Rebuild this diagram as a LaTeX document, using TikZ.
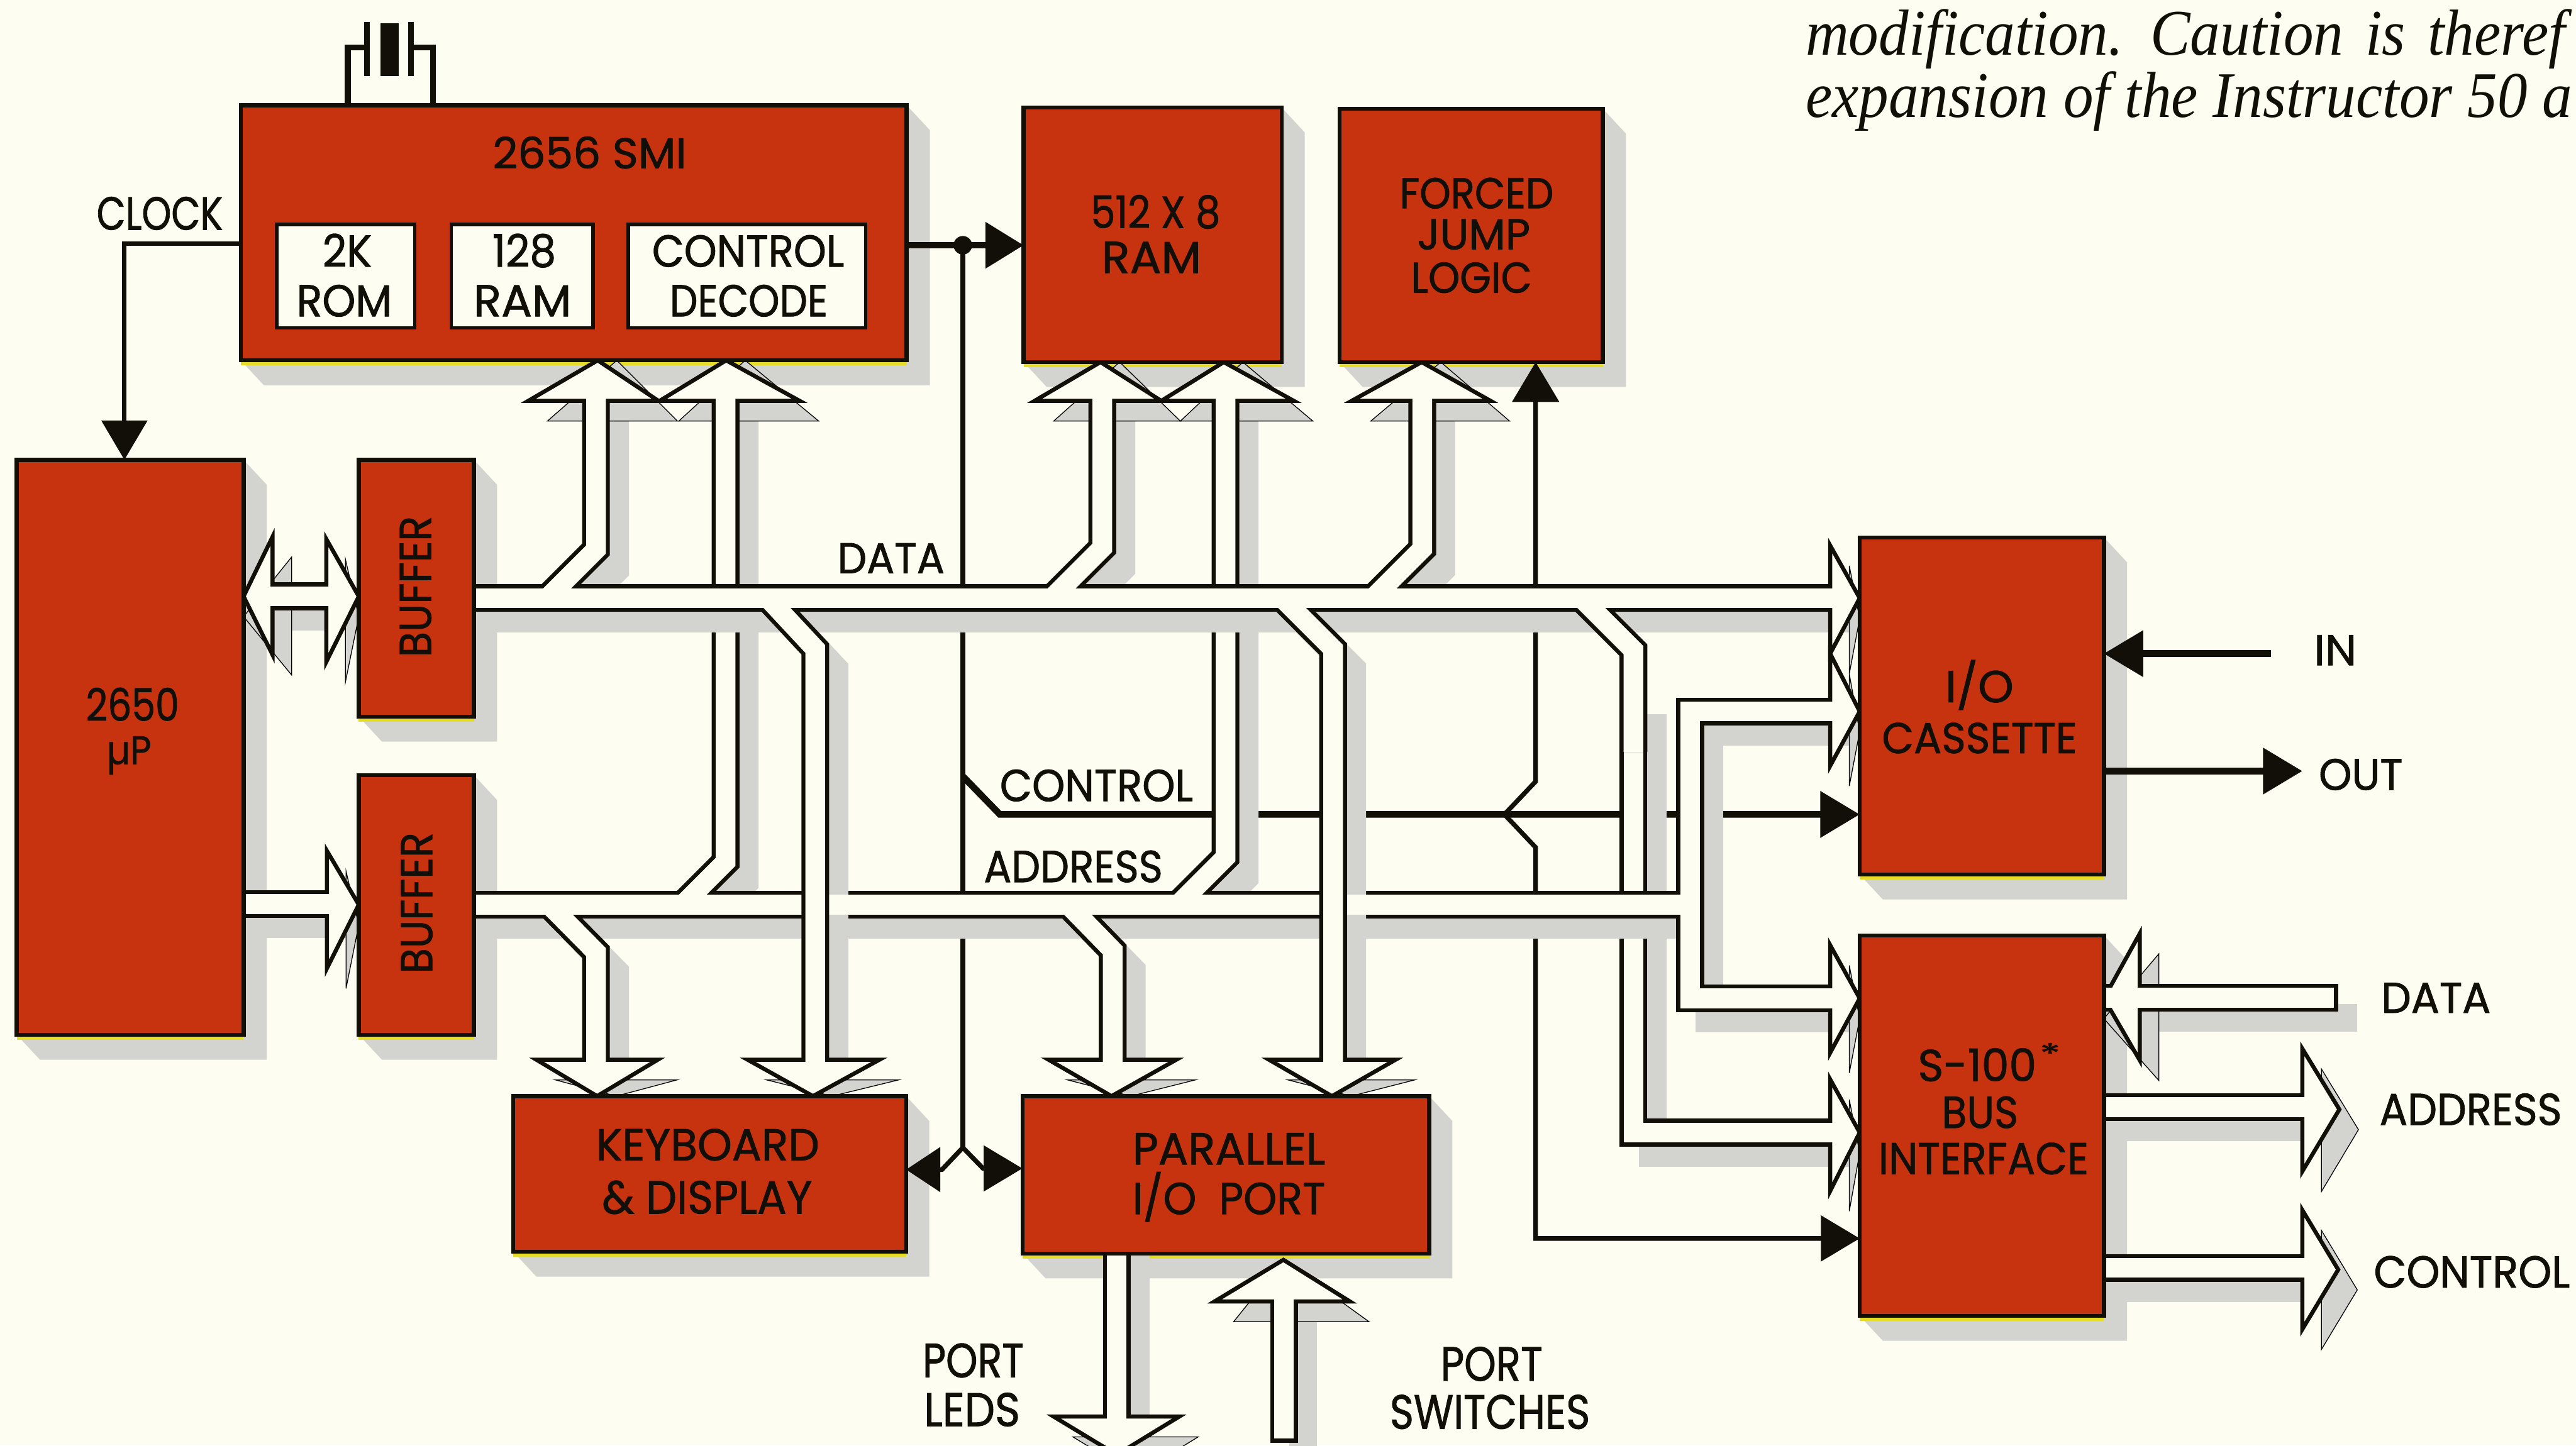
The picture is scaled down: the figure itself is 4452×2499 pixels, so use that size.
\documentclass[tikz,border=0pt]{standalone}
\usepackage{fontspec}
\usepackage{graphicx}
\usetikzlibrary{arrows.meta}
\setmainfont{Poppins}
\newfontfamily\lblfont{Poppins}[FakeBold=1.3]
\newfontfamily\bodyserif{Liberation Serif}
\newdimen\pxu \pxu=0.1mm
\newcommand\lab[3][54]{\resizebox{#2\pxu}{#1\pxu}{\raisebox{0pt}[\fontcharht\font`H][0pt]{#3}}}
\definecolor{paper}{HTML}{FDFEF1}
\definecolor{brick}{HTML}{C8330F}
\definecolor{ink}{HTML}{120E08}
\definecolor{shadowc}{HTML}{D3D4D0}
\definecolor{fringe}{HTML}{E6DC2A}
\pgfdeclarelayer{back}
\pgfsetlayers{back,main}
\tikzset{
  block/.style={draw=ink,fill=brick,line width=0.7mm,inner sep=0,outer sep=0,anchor=north west},
  subbox/.style={draw=ink,fill=paper,line width=0.6mm,inner sep=0,outer sep=0,anchor=north west},
  txt/.style={inner sep=0,outer sep=0,text=ink,font=\lblfont\fontsize{22}{22}\selectfont},
  busout/.style={draw=ink,line width=4.8mm,line join=miter,miter limit=10},
  busin/.style={draw=paper,line width=3.4mm,line join=miter,miter limit=10},
  busshade/.style={draw=shadowc,line width=4.8mm,xshift=3.3mm,yshift=-3.5mm,line join=miter},
  headbox/.style={draw=ink,fill=paper,line width=0.7mm,line join=miter,miter limit=10},
  headshade/.style={fill=shadowc,xshift=3.3mm,yshift=-3.5mm},
  sig/.style={draw=ink,line width=0.8mm,line join=miter},
  sigbold/.style={draw=ink,line width=1.15mm,line join=miter},
  arrowtip/.style={-{Triangle[length=6.8mm,width=7.8mm]}},
}
% data bus and branches
\newcommand\datapaths[1]{%
  \draw[#1] (buf1.center |- 0,1034) -- (3168,1034);
  \draw[#1] (1030,687) -- (1030,950) -- (946,1034);
  \draw[#1] (1905,687) -- (1905,947) -- (1818,1034);
  \draw[#1] (2458,687) -- (2458,949) -- (2373,1034);
  \draw[#1] (1327,1034) -- (1409,1122) -- (1409,1838);
  \draw[#1] (2216,1034) -- (2304,1122) -- (2304,1838);
  \draw[#1] (466,1031) -- (569,1031);
}
\newcommand\stubpath[1]{%
  \draw[#1] (2733,1034) -- (2823,1124) -- (2823,1300);
}
\newcommand\dataheads[1]{%
  \draw[#1] (3163,943) -- (cass.west |- 0,1034) -- (3163,1130) -- cycle;
  \draw[#1] (913,693) -- (1033,0 |- smi.south) -- (1138,693) -- cycle;
  \draw[#1] (1788,693) -- (1902,0 |- ram.south) -- (2007,693) -- cycle;
  \draw[#1] (2336,693) -- (2457,0 |- fjl.south) -- (2576,693) -- cycle;
  \draw[#1] (1292,1832) -- (1405,0 |- kbd.north) -- (1520,1832) -- cycle;
  \draw[#1] (2193,1832) -- (2302,0 |- par.north) -- (2412,1832) -- cycle;
  \draw[#1] (471,928) -- (cpu.east |- 0,1031) -- (471,1132) -- cycle;
  \draw[#1] (564,932) -- (buf1.west |- 0,1031) -- (564,1144) -- cycle;
}
% address bus and branches
\newcommand\addrpaths[1]{%
  \draw[#1] (buf2.center |- 0,1564) -- (2921,1564) -- (2921,1230) -- (3168,1230);
  \draw[#1] (2921,1550) -- (2921,1726) -- (3168,1726);
  \draw[#1] (1254,687) -- (1254,1490) -- (1180,1564);
  \draw[#1] (2118,687) -- (2118,1482) -- (2036,1564);
  \draw[#1] (949,1564) -- (1030,1646) -- (1030,1838);
  \draw[#1] (1846,1564) -- (1923,1643) -- (1923,1838);
  \draw[#1] (cpu.center |- 0,1563) -- (570,1563);
}
\newcommand\addrheads[1]{%
  \draw[#1] (3163,1130) -- (cass.west |- 0,1230) -- (3163,1324) -- cycle;
  \draw[#1] (3163,1634) -- (bus.west |- 0,1726) -- (3163,1820) -- cycle;
  \draw[#1] (1140,693) -- (1255,0 |- smi.south) -- (1382,693) -- cycle;
  \draw[#1] (2007,693) -- (2115,0 |- ram.south) -- (2236,693) -- cycle;
  \draw[#1] (927,1832) -- (1032,0 |- kbd.north) -- (1137,1832) -- cycle;
  \draw[#1] (1812,1832) -- (1921,0 |- par.north) -- (2033,1832) -- cycle;
  \draw[#1] (565,1471) -- (buf2.west |- 0,1564) -- (565,1674) -- cycle;
}
% data branch to the S-100 interface, passing under the address bus
\newcommand\lowpaths[1]{%
  \draw[#1] (2823,1200) -- (2823,1958) -- (3168,1958);
}
\newcommand\lowheads[1]{%
  \draw[#1] (3163,1866) -- (bus.west |- 0,1958) -- (3163,2059) -- cycle;
}
\newcommand\freeheads[1]{%
  \draw[#1] (1821,2449) -- (1930,2515) -- (2038,2449) -- cycle;
  \draw[#1] (3979,1813) -- (4043,1918) -- (3979,2025) -- cycle;
  \draw[#1] (3979,2092) -- (4041,2195) -- (3979,2298) -- cycle;
  \draw[#1] (2099,2250) -- (swtop) -- (2333,2250) -- cycle;
  \draw[#1] (3698,1614) -- (bus.east |- 0,1726) -- (3698,1833) -- cycle;
}
\begin{document}
\begin{tikzpicture}[x=0.1mm,y=-0.1mm]
\useasboundingbox (0,0) rectangle (4452,2499);
\clip (0,0) rectangle (4452,2499);

% blocks
\node[block,minimum width=115.1mm,minimum height=44.1mm] (smi) at (416,182) {};
\node[subbox,minimum width=23.9mm,minimum height=17.9mm] (rom) at (478,388) {};
\node[subbox,minimum width=24.5mm,minimum height=17.9mm] (iram) at (780,388) {};
\node[subbox,minimum width=41mm,minimum height=17.9mm] (dec) at (1086,388) {};
\node[block,minimum width=44.6mm,minimum height=44mm] (ram) at (1769,186) {};
\node[block,minimum width=45.5mm,minimum height=43.8mm] (fjl) at (2315,188) {};
\node[block,minimum width=39.2mm,minimum height=99.4mm] (cpu) at (29,795) {};
\node[block,minimum width=19.9mm,minimum height=44.4mm] (buf1) at (620,795) {};
\node[block,minimum width=19.9mm,minimum height=44.9mm] (buf2) at (620,1340) {};
\node[block,minimum width=67.9mm,minimum height=26.9mm] (kbd) at (887,1895) {};
\node[block,minimum width=70.3mm,minimum height=27.2mm] (par) at (1767,1895) {};
\node[block,minimum width=42.2mm,minimum height=58.3mm] (cass) at (3214,929) {};
\node[block,minimum width=42.2mm,minimum height=65.8mm] (bus) at (3214,1617) {};

% labels
\node[txt] (tsmi) at (1019,265) {\lab[52]{335}{2656 SMI}};
\node[txt] (tclk) at (276,369) {\lab[56]{218}{CLOCK}};
\node[txt] (t2k) at (600,434) {\lab{85}{2K}};
\node[txt] (trom) at (595,520) {\lab{165}{ROM}};
\node[txt] (t128) at (906,434) {\lab{110}{128}};
\node[txt] (tram) at (903,520) {\lab{169}{RAM}};
\node[txt] (tctl) at (1293,434) {\lab{332}{CONTROL}};
\node[txt] (tdec) at (1294,520) {\lab{273}{DECODE}};
\node[txt] (t2650) at (229,1219) {\lab{161}{2650}};
\node[txt] (tup) at (223,1306) {\resizebox*{77\pxu}{66\pxu}{µP}};
\node[txt,rotate=90] (tb1) at (718,1014) {\lab{244}{BUFFER}};
\node[txt,rotate=90] (tb2) at (720,1561) {\lab{244}{BUFFER}};
\node[txt] (t512) at (1997,367) {\lab{224}{512 X 8}};
\node[txt] (tr8) at (1990,445) {\lab{172}{RAM}};
\node[txt] (tfor) at (2552,334) {\lab[52]{266}{FORCED}};
\node[txt] (tjmp) at (2547,405) {\lab[52]{195}{JUMP}};
\node[txt] (tlog) at (2543,480) {\lab[52]{209}{LOGIC}};
\node[txt] (tdat) at (1540,965) {\lab[52]{185}{DATA}};
\node[txt] (tcon) at (1895,1358) {\lab{334}{CONTROL}};
\node[txt] (tadr) at (1855,1498) {\lab{309}{ADDRESS}};
\node[txt] (tkey) at (1223,1979) {\lab{386}{KEYBOARD}};
\node[txt] (tdis) at (1222,2070) {\lab[56]{363}{\&\ DISPLAY}};
\node[txt] (tpar) at (2124,1986) {\lab{333}{PARALLEL}};
\node[txt] (tiop) at (2124,2072) {\lab{333}{I/O\ \ PORT}};
\node[txt] (tp1) at (1682,2352) {\lab[58]{175}{PORT}};
\node[txt] (tled) at (1680,2437) {\lab[57]{166}{LEDS}};
\node[txt] (tp2) at (2578,2358) {\lab[58]{176}{PORT}};
\node[txt] (tsw) at (2575,2441) {\lab[58]{346}{SWITCHES}};
\node[txt] (tio) at (3421,1187) {\lab{118}{I/O}};
\node[txt] (tcas) at (3421,1276) {\lab[52]{337}{CASSETTE}};
\node[txt] (ts100) at (3417,1842) {\lab{205}{S-100}};
\node[txt] (tast) at (3543,1822) {\lab[34]{36}{*}};
\node[txt] (tbus) at (3422,1923) {\lab{132}{BUS}};
\node[txt] (tifc) at (3428,2003) {\lab{363}{INTERFACE}};
\node[txt] (tin) at (4036,1124) {\lab[52]{74}{IN}};
\node[txt] (tout) at (4080,1339) {\lab[53]{145}{OUT}};
\node[txt] (tdr) at (4210,1725) {\lab[52]{189}{DATA}};
\node[txt] (tar) at (4270,1918) {\lab{315}{ADDRESS}};
\node[txt] (tcr) at (4272,2199) {\lab{339}{CONTROL}};

\node[inner sep=0,anchor=base west,text=ink,font=\bodyserif\itshape\fontsize{32}{32}\selectfont] (para1) at (3120,95)
  {\scalebox{0.92}[1]{modification.\hspace{0.12em} Caution\hspace{0.12em} is\hspace{0.12em} theref}};
\node[inner sep=0,anchor=base west,text=ink,font=\bodyserif\itshape\fontsize{32}{32}\selectfont] (para2) at (3120,203)
  {\scalebox{0.92}[1]{expansion of the Instructor 50 a}};

% signals on top of shadows
\coordinate (swtop) at (2218,2178);
\draw[sig,line width=1mm] (601,0 |- smi.north) -- (601,82) -- (631,82);
\draw[sig,line width=1mm] (748,0 |- smi.north) -- (748,82) -- (710,82);
\draw[sig,line width=1mm] (634,38) -- (634,131);
\draw[sig,line width=1mm] (710,38) -- (710,131);
\fill[ink] (658,40) rectangle (689,131);
\coordinate (clkbend) at (215,421);
\draw[sig,arrowtip] (smi.west |- clkbend) -- (clkbend) -- (215,0 |- cpu.north);
\coordinate (tap) at (1664,424);
\draw[sigbold,-{Triangle[length=6.6mm,width=7.8mm]}] (smi.east |- tap) -- (ram.west |- tap);
\fill[ink] (tap) circle (16);
\draw[sigbold,-{Triangle[length=6.8mm,width=7.8mm]}] (cass.east |- 0,1333) -- (3979,1333);
\draw[sigbold,-{Triangle[length=6.8mm,width=7.8mm]}] (3925,1130) -- (cass.east |- 0,1130);

\begin{pgfonlayer}{back}
  \fill[paper] (0,0) rectangle (4452,2499);
  % block shadows
  \foreach \n in {smi,ram,fjl,cpu,buf1,buf2,kbd,par,cass,bus}{
    \fill[shadowc] (\n.south west) -- ++(40,43) -- ([shift={(40,43)}]\n.south east)
       -- ([shift={(40,43)}]\n.north east) -- (\n.north east) -- cycle;
    \draw[fringe,line width=0.6mm] ([yshift=-0.6mm]\n.south west) -- ([yshift=-0.6mm]\n.south east);
  }
  % single-line control signals (the bus shadows interrupt them)
  \coordinate (ctlbend) at (1664,1342);
  \coordinate (ctlrun) at (1728,1408);
  \coordinate (jct) at (2600,1408);
  \coordinate (split) at (1664,1984);
  \draw[sig] (tap) -- (split);
  \draw[sigbold,arrowtip] (ctlbend) -- (ctlrun) -- (cass.west |- ctlrun);
  \draw[sig,-{Triangle[length=6.9mm,width=8mm]}] (jct) -- (2654,1351) -- (2654,0 |- fjl.south);
  \draw[sig,-{Triangle[length=6.7mm,width=7.8mm]}] (jct) -- (2654,1465) -- (2654,2141) -- (bus.west |- 0,2141);
  \draw[sig,-{Triangle[length=5.9mm,width=7.6mm]}] (split) -- (1628,2022) -- (kbd.east |- 0,2022);
  \draw[sig,-{Triangle[length=6.7mm,width=7.8mm]}] (split) -- (1699,2020) -- (par.west |- 0,2020);

  % lowest bus layer
  \lowpaths{busshade}\lowheads{headshade}
  \lowpaths{busout}\lowheads{headbox}\lowpaths{busin}
  % address bus
  \addrpaths{busshade}\addrheads{headshade}
  \addrpaths{busout}\addrheads{headbox}\addrpaths{busin}
  % data bus over it
  \datapaths{busshade}\dataheads{headshade}
  \draw[busin] (buf2.center |- 0,1564) -- (2905,1564);
  \datapaths{busout}\stubpath{busout}\dataheads{headbox}\datapaths{busin}\stubpath{busin}
  % free-standing buses
  \draw[busshade] (1930,2100) -- (1930,2455);
  \draw[busshade] (bus.center |- 0,1914) -- (3984,1914);
  \draw[busshade] (bus.center |- 0,2192) -- (3984,2192);
  \draw[busshade] (2219,2245) -- (2219,2494);
  \draw[busshade] (bus.center |- 0,1725) -- (4041,1725);
  \freeheads{headshade}
  \draw[busout] (1930,2100) -- (1930,2455);
  \draw[busout] (bus.center |- 0,1914) -- (3984,1914);
  \draw[busout] (bus.center |- 0,2192) -- (3984,2192);
  \draw[busout] (2219,2245) -- (2219,2494);
  \draw[busout] (bus.center |- 0,1725) -- (4041,1725);
  \freeheads{headbox}
  \draw[busin] (1930,2100) -- (1930,2455);
  \draw[busin] (bus.center |- 0,1914) -- (3984,1914);
  \draw[busin] (bus.center |- 0,2192) -- (3984,2192);
  \draw[busin] (2219,2245) -- (2219,2487);
  \draw[busin] (bus.center |- 0,1725) -- (4034,1725);
\end{pgfonlayer}
\end{tikzpicture}
\end{document}
